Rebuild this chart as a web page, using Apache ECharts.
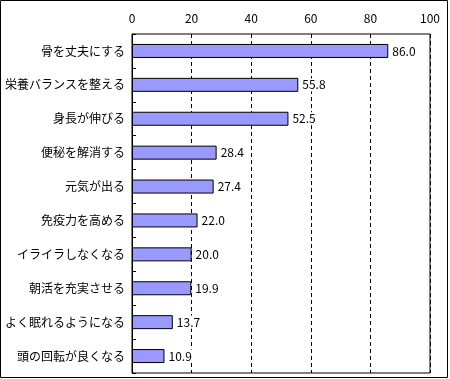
<!DOCTYPE html>
<html><head><meta charset="utf-8">
<script src="https://cdn.jsdelivr.net/npm/echarts@6/dist/echarts.min.js"></script>
<style>html,body{margin:0;padding:0;background:#fff}#c{width:450px;height:379px}</style>
</head><body><div id="c"></div>
<script>
const categories = ["骨を丈夫にする","栄養バランスを整える","身長が伸びる","便秘を解消する","元気が出る","免疫力を高める","イライラしなくなる","朝活を充実させる","よく眠れるようになる","頭の回転が良くなる"];
const values = [86.0,55.8,52.5,28.4,27.4,22.0,20.0,19.9,13.7,10.9];
const xTicks = [0,20,40,60,80,100];
const font = '"Noto Sans CJK JP", sans-serif';
const chart = echarts.init(document.getElementById('c'));
chart.setOption({
  animation:false,
  graphic:[{type:'rect',shape:{x:0.5,y:0.5,width:447,height:377},style:{fill:null,stroke:'#000',lineWidth:1},z:-1}],
  grid:{left:132,right:20,top:34,bottom:6,show:true,borderColor:'#000',borderWidth:1,containLabel:false},
  xAxis:{type:'value',position:'top',min:xTicks[0],max:xTicks[xTicks.length-1],interval:20,
    axisLine:{show:false},axisTick:{show:false},
    axisLabel:{color:'#000',fontSize:12,fontFamily:font,margin:10},
    splitLine:{show:true,lineStyle:{color:'#000',type:[4,3],width:1}}},
  yAxis:{type:'category',inverse:true,data:categories,
    axisLine:{show:true,lineStyle:{color:'#000'}},
    axisTick:{show:true,inside:true,length:4,lineStyle:{color:'#000'}},
    axisLabel:{color:'#000',fontSize:12,fontFamily:font,margin:7}},
  series:[{type:'bar',data:values,barWidth:14,
    itemStyle:{color:'#9999FF',borderColor:'#000',borderWidth:1},
    label:{show:true,position:'right',distance:3,color:'#000',fontSize:12,fontFamily:font,
      backgroundColor:'#fff',padding:[1,1,0,1],
      formatter:p=>p.value.toFixed(1)}}]
});
</script></body></html>
